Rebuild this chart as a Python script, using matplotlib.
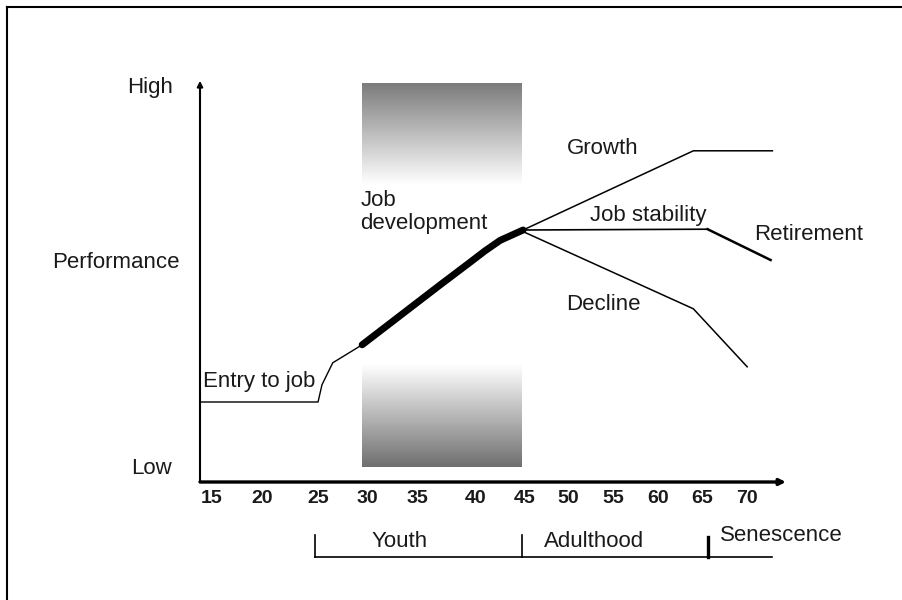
import numpy as np
import matplotlib
matplotlib.use("Agg")
import matplotlib.pyplot as plt
from matplotlib.lines import Line2D

plt.rcParams['font.family'] = ['Liberation Sans', 'DejaVu Sans']

# age ticks along the (hand drawn, uneven) time axis
tick_ages = [15, 20, 25, 30, 35, 40, 45, 50, 55, 60, 65, 70]
tick_labels = [str(a) for a in tick_ages]

# career curve (age, performance 0-100)
entry_age = [13.8, 25.0, 25.4, 26.5, 29.5]
entry_perf = [20.0, 20.0, 24.3, 29.8, 34.3]

develop_age = [29.5, 34.3, 37.0, 39.6, 41.0, 42.5, 44.8]
develop_perf = [34.3, 43.5, 49.3, 55.0, 57.8, 60.4, 63.0]

growth_age = [44.8, 64.0, 72.8]
growth_perf = [63.0, 82.8, 82.8]

stability_age = [44.8, 65.6]
stability_perf = [63.0, 63.2]

retire_age = [65.6, 72.6]
retire_perf = [63.2, 55.5]

decline_age = [44.8, 64.0, 70.0]
decline_perf = [62.6, 43.3, 28.8]

# life stages under the axis
stage_names = ['Youth', 'Adulthood', 'Senescence']
stage_bounds = [24.7, 44.7, 65.7, 72.8]

# shaded job development band
band_age = (29.5, 44.8)
band_perf = (3.8, 100.5)

# uneven spacing of the drawn axis
knot_ages = [0] + tick_ages + [100]
knot_pos = [62, 212, 262, 318, 367, 417, 475, 525, 568, 613, 658, 702, 747, 1017]


def fwd(a):
    return np.interp(a, knot_ages, knot_pos)


def inv(p):
    return np.interp(p, knot_pos, knot_ages)


fig = plt.figure(figsize=(9.03, 6.0), dpi=100)
ax = fig.add_axes([200 / 903, 1 - 482 / 600, 585 / 903, 400 / 600])
ax.set_xscale('function', functions=(fwd, inv))
ax.set_xlim(13.8, 74.2)
ax.set_ylim(0, 100)
for s in ax.spines.values():
    s.set_visible(False)

# gradient band: gray at top and bottom, white in the middle
yy = np.linspace(band_perf[0], band_perf[1], 400)
shade = np.ones_like(yy)
low = yy < 29.3
high = yy > 74.3
shade[low] = 0.44 + 0.56 * (yy[low] - band_perf[0]) / (29.3 - band_perf[0])
shade[high] = 1.0 - 0.53 * (yy[high] - 74.3) / (band_perf[1] - 74.3)
ax.imshow(shade[:, None], cmap='gray', vmin=0, vmax=1, origin='lower',
          extent=[band_age[0], band_age[1], band_perf[0], band_perf[1]],
          aspect='auto', interpolation='bilinear', zorder=0)

# axes with arrows
ax.annotate('', xy=(74.3, 0), xytext=(13.8, 0),
            arrowprops=dict(arrowstyle='-|>', lw=2.4, color='black',
                            mutation_scale=9, shrinkA=0, shrinkB=0),
            annotation_clip=False)
ax.annotate('', xy=(13.8, 100.3), xytext=(13.8, 0),
            arrowprops=dict(arrowstyle='-|>', lw=1.5, color='black',
                            mutation_scale=8, shrinkA=0, shrinkB=0),
            annotation_clip=False)

# curves
ax.plot(entry_age, entry_perf, color='black', lw=1.0)
ax.plot(develop_age, develop_perf, color='black', lw=5.0,
        solid_capstyle='round', solid_joinstyle='round')
ax.plot(growth_age, growth_perf, color='black', lw=1.1)
ax.plot(stability_age, stability_perf, color='black', lw=1.2)
ax.plot(retire_age, retire_perf, color='black', lw=1.8)
ax.plot(decline_age, decline_perf, color='black', lw=1.1)

fs = 16
txt = '#1a1a1a'
ax.text(14.1, 25.0, 'Entry to job', fontsize=fs, color=txt, ha='left', va='center')
ax.text(29.3, 67.5, 'Job\ndevelopment', fontsize=fs, color=txt, ha='left',
        va='center', linespacing=1.1,
        bbox=dict(facecolor='white', edgecolor='none', pad=2))
ax.text(49.8, 83.3, 'Growth', fontsize=fs, color=txt, ha='left', va='center')
ax.text(52.4, 66.5, 'Job stability', fontsize=fs, color=txt, ha='left', va='center')
ax.text(70.8, 61.8, 'Retirement', fontsize=fs, color=txt, ha='left', va='center')
ax.text(49.8, 44.5, 'Decline', fontsize=fs, color=txt, ha='left', va='center')

# y labels
ax.text(-0.046, 98.5, 'High', transform=ax.get_yaxis_transform(),
        fontsize=fs, color=txt, ha='right', va='center')
ax.text(-0.034, 55.0, 'Performance', transform=ax.get_yaxis_transform(),
        fontsize=fs, color=txt, ha='right', va='center')
ax.text(-0.048, 3.5, 'Low', transform=ax.get_yaxis_transform(),
        fontsize=fs, color=txt, ha='right', va='center')

ax.set_yticks([])
ax.set_xticks(tick_ages)
ax.set_xticklabels(tick_labels, fontsize=14, fontweight='bold', color=txt)
ax.tick_params(axis='x', length=0, pad=6)

# life stage bracket
ax.plot([stage_bounds[0], stage_bounds[-1]], [-18.8, -18.8], color='black',
        lw=1.2, clip_on=False)
ax.plot([stage_bounds[0]] * 2, [-13.3, -18.8], color='black', lw=1.2, clip_on=False)
ax.plot([stage_bounds[1]] * 2, [-13.3, -18.8], color='black', lw=1.2, clip_on=False)
ax.plot([stage_bounds[2]] * 2, [-13.8, -18.8], color='black', lw=2.4, clip_on=False)
ax.text(33.3, -14.8, stage_names[0], fontsize=fs, color=txt, ha='center', va='center')
ax.text(52.9, -14.8, stage_names[1], fontsize=fs, color=txt, ha='center', va='center')
ax.text(67.0, -13.3, stage_names[2], fontsize=fs, color=txt, ha='left', va='center')

# frame edges (top and left) of the original picture
fig.add_artist(Line2D([7 / 903, 1], [1 - 7 / 600] * 2, color='black', lw=1.5))
fig.add_artist(Line2D([7 / 903] * 2, [0, 1 - 7 / 600], color='black', lw=1.5))

fig.savefig('out.png', dpi=100)
